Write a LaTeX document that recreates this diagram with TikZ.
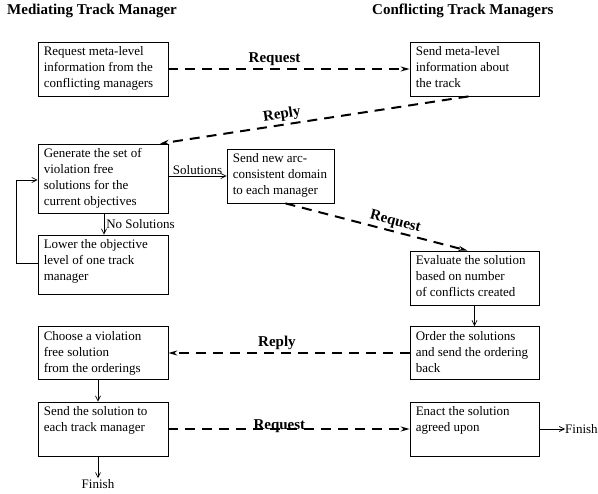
\documentclass[tikz,border=0pt]{standalone}
\usepackage{fontspec}
\setmainfont{Liberation Serif}
\usetikzlibrary{arrows.meta,calc}
\begin{document}
\begin{tikzpicture}[x=1pt,y=-1pt,
 box/.style={draw,line width=0.8pt,minimum width=130pt,minimum height=54pt,inner sep=0},
 txt/.style={anchor=north west,inner sep=0,align=left,font=\fontsize{13}{16}\selectfont},
 msg/.style={line width=2pt,dash pattern=on 10pt off 7pt,-{Stealth[length=9pt,width=5pt]}},
 flow/.style={line width=0.7pt,-{Straight Barb[length=5pt,width=5pt]}},
 mlab/.style={font=\fontsize{15}{18}\selectfont\bfseries,inner sep=1pt},
 slab/.style={font=\fontsize{13}{16}\selectfont,inner sep=1pt},
 ttl/.style={font=\fontsize{15}{18}\selectfont\bfseries,anchor=base west,inner sep=0}]
\useasboundingbox (0,0) rectangle (598,494);
\node[ttl] (t1) at (7,15) {Mediating Track Manager};
\node[ttl] (t2) at (372,15) {Conflicting Track Managers};

\node[box] (A) at (103,69) {};
\node[txt] (At) at ($(A.north west)+(6,5)$) {Request meta-level\\information from the\\conflicting managers};
\node[box,minimum width=129pt] (B) at (474.5,69) {};
\node[txt] (Bt) at ($(B.north west)+(6,5)$) {Send meta-level\\information about\\the track};
\node[box,minimum height=69pt] (C) at (103,178.5) {};
\node[txt] (Ct) at ($(C.north west)+(6,5)$) {Generate the set of\\violation free\\solutions for the\\current objectives};
\node[box,minimum width=107pt] (D) at (280.5,176) {};
\node[txt] (Dt) at ($(D.north west)+(6,5)$) {Send new arc-\\consistent domain\\to each manager};
\node[box,minimum height=59pt] (E) at (103,264.5) {};
\node[txt] (Et) at ($(E.north west)+(6,5)$) {Lower the objective\\level of one track\\manager};
\node[box,minimum width=129pt] (F) at (474.5,278) {};
\node[txt] (Ft) at ($(F.north west)+(6,5)$) {Evaluate the solution\\based on number\\of conflicts created};
\node[box,minimum width=129pt,minimum height=53pt] (G) at (474.5,353) {};
\node[txt] (Gt) at ($(G.north west)+(6,5)$) {Order the solutions\\and send the ordering\\back};
\node[box,minimum height=53pt] (H) at (103,353) {};
\node[txt] (Ht) at ($(H.north west)+(6,5)$) {Choose a violation\\free solution\\from the orderings};
\node[box] (I) at (103,429) {};
\node[txt] (It) at ($(I.north west)+(6,5)$) {Send the solution to\\each track manager};
\node[box,minimum width=129pt] (J) at (474.5,429) {};
\node[txt] (Jt) at ($(J.north west)+(6,5)$) {Enact the solution\\agreed upon};

\node[slab] (fin1) at (98,484) {Finish};
\node[slab,anchor=west,inner sep=0] (fin2) at (565,429) {Finish};

% messages
\draw[msg] (A.east) -- node[mlab,pos=0.44,above,yshift=1pt] {Request} (B.west);
\draw[msg] ([xshift=-6pt]B.south) -- node[mlab,pos=0.6,sloped,above,yshift=1pt] {Reply} ([xshift=57pt]C.north);
\draw[msg] ([xshift=5pt]D.south) -- node[mlab,pos=0.59,sloped,above,yshift=1pt] {Request} ([xshift=-7pt]F.north);
\draw[msg] (G.west) -- node[mlab,pos=0.55,above,yshift=1pt] {Reply} (H.east);
\draw[msg] (I.east) -- node[mlab,pos=0.46,anchor=base,yshift=-1pt] {Request} (J.west);

% flow
\draw[flow] (C.east |- D.west) -- node[slab,above] {Solutions} (D.west);
\draw[flow] ([xshift=1pt]C.south) -- node[slab,right,xshift=1pt] {No Solutions} ([xshift=1pt]E.north);
\draw[flow] ([yshift=1.5pt]E.west) -- ++(-21,0) |- ([yshift=-1.5pt]C.west);
\draw[flow] (F.south) -- (G.north);
\draw[flow] ([xshift=-5pt]H.south) -- ([xshift=-5pt]I.south |- I.north);
\draw[flow] ([xshift=-5pt]I.south) -- (fin1.north);
\draw[flow] (J.east) -- (fin2.west);
\end{tikzpicture}
\end{document}
